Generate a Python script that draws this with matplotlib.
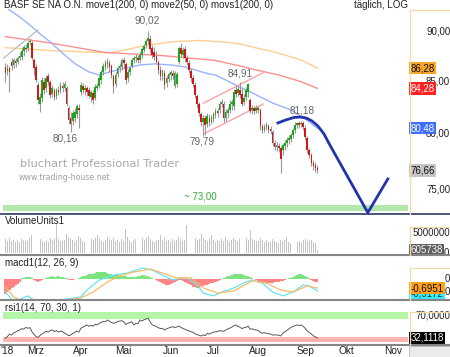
import matplotlib
matplotlib.use("Agg")
import matplotlib.pyplot as plt
import matplotlib.transforms as mtransforms
from matplotlib.lines import Line2D
from matplotlib.patches import Rectangle
import numpy as np
import pandas as pd

plt.rcParams['font.family'] = ['Liberation Sans', 'DejaVu Sans']

# ---- data ----
start_date = '2018-02-08'
axis_end_date = '2018-11-13'

opens = [
    86.35, 85.95, 86.25, 86.85, 86.55, 86.95, 86.85, 87.25, 87.45, 87.96,
    88.36, 88.36, 88.97, 88.87, 87.05, 86.35, 84.58, 82.76, 83.33, 84.87,
    84.29, 85.46, 84.87, 83.72, 84.10, 83.52, 84.10, 84.10, 84.48, 84.29,
    84.29, 82.38, 81.44, 81.16, 81.44, 81.81, 82.38, 83.91, 84.48, 84.10,
    84.29, 84.10, 83.43, 83.81, 83.33, 84.29, 84.48, 85.07, 85.85, 86.35,
    86.65, 86.75, 86.45, 85.46, 84.68, 85.66, 86.25, 86.35, 87.05, 86.65,
    85.27, 85.85, 86.45, 87.05, 87.25, 87.35, 87.05, 87.65, 88.16, 88.66,
    89.07, 89.28, 88.36, 87.86, 87.55, 86.85, 86.05, 85.46, 85.76, 84.78,
    85.17, 85.56, 85.76, 84.48, 84.68, 86.85, 88.36, 87.65, 88.26, 87.35,
    86.75, 85.95, 85.27, 84.58, 83.52, 82.76, 81.81, 81.06, 81.44, 80.87,
    81.44, 81.06, 81.34, 81.72, 82.10, 82.19, 82.76, 82.76, 81.44, 81.91,
    82.19, 82.76, 82.57, 84.10, 83.81, 84.10, 83.72, 82.95, 83.43, 83.91,
    83.14, 82.19, 82.38, 82.10, 82.38, 82.19, 80.69, 80.32, 80.60, 80.69,
    80.41, 80.14, 79.13, 78.77, 78.86, 78.68, 78.50, 78.86, 79.13, 79.40,
    79.49, 79.86, 80.32, 80.78, 80.97, 80.87, 80.97, 80.50, 79.58, 78.50,
    78.05, 77.34, 77.16, 76.90]
highs = [
    86.75, 86.65, 86.45, 87.25, 87.25, 87.35, 87.55, 87.86, 88.36, 88.66,
    88.77, 89.07, 89.38, 89.07, 87.25, 86.65, 84.87, 83.81, 85.36, 85.27,
    85.56, 85.76, 85.07, 84.58, 84.29, 84.29, 84.48, 84.87, 84.87, 84.97,
    84.48, 82.57, 82.00, 82.19, 82.38, 82.76, 82.76, 84.87, 84.78, 84.58,
    84.48, 84.39, 84.10, 84.10, 84.68, 84.78, 85.56, 86.05, 86.75, 87.05,
    87.25, 87.05, 86.65, 85.66, 85.85, 86.45, 86.75, 87.25, 87.45, 86.85,
    86.15, 86.45, 87.35, 87.55, 87.75, 87.65, 87.86, 88.46, 88.77, 89.28,
    90.02, 89.69, 88.66, 88.46, 88.06, 87.05, 86.45, 86.15, 86.05, 85.56,
    85.85, 86.05, 86.05, 85.95, 85.85, 88.56, 88.87, 88.46, 88.56, 87.65,
    87.05, 86.25, 85.56, 84.87, 83.72, 82.95, 82.00, 81.72, 81.72, 81.91,
    81.81, 81.72, 82.00, 82.38, 82.38, 83.04, 83.24, 83.04, 82.28, 82.47,
    83.14, 83.24, 84.20, 84.48, 84.48, 84.91, 84.29, 83.72, 84.39, 84.78,
    83.33, 82.66, 82.57, 82.66, 82.57, 82.38, 80.87, 80.87, 81.06, 80.87,
    80.69, 80.32, 79.40, 79.22, 79.13, 78.86, 79.13, 79.40, 79.68, 79.86,
    80.05, 80.50, 81.06, 81.10, 81.18, 81.16, 81.16, 80.78, 79.77, 78.68,
    78.23, 77.60, 77.42, 77.16]
lows = [
    84.87, 85.56, 83.91, 86.05, 86.25, 86.35, 86.65, 87.05, 87.05, 87.55,
    87.86, 88.06, 88.66, 87.05, 85.56, 84.87, 82.76, 82.00, 82.95, 83.72,
    83.91, 84.58, 83.33, 83.43, 83.14, 83.24, 83.62, 83.81, 83.91, 84.00,
    82.57, 80.87, 80.16, 80.78, 81.06, 81.44, 80.50, 83.62, 83.81, 83.62,
    83.52, 83.33, 82.95, 82.76, 83.14, 84.10, 84.29, 84.68, 85.56, 86.05,
    86.25, 85.85, 85.27, 83.81, 84.39, 85.36, 85.85, 86.05, 86.25, 84.68,
    84.87, 85.56, 86.25, 86.75, 86.85, 86.75, 86.75, 87.35, 87.86, 88.36,
    88.77, 87.86, 87.35, 87.05, 86.65, 85.66, 85.07, 85.07, 84.20, 84.39,
    84.87, 85.07, 85.17, 84.29, 84.39, 86.65, 87.45, 87.25, 86.85, 86.55,
    85.76, 84.87, 84.39, 83.33, 82.38, 81.63, 80.69, 79.79, 79.90, 80.60,
    80.69, 80.87, 81.06, 81.44, 81.53, 81.91, 82.47, 81.06, 81.16, 81.44,
    81.91, 82.19, 82.19, 83.43, 83.52, 83.33, 82.57, 82.66, 83.14, 83.43,
    81.91, 81.81, 81.81, 81.91, 81.91, 80.32, 80.05, 80.14, 80.32, 80.05,
    79.95, 78.86, 78.50, 78.41, 78.32, 76.46, 78.05, 78.50, 78.77, 79.04,
    79.22, 79.58, 80.05, 80.50, 80.50, 80.60, 80.32, 79.40, 78.23, 77.78,
    77.07, 76.72, 76.54, 76.46]
closes = [
    85.76, 86.25, 85.85, 86.45, 87.05, 86.75, 87.35, 87.55, 88.06, 88.46,
    88.26, 88.87, 89.07, 87.25, 86.25, 85.07, 83.14, 83.43, 85.07, 84.10,
    85.27, 84.87, 83.62, 84.29, 83.43, 84.10, 83.91, 84.58, 84.29, 84.68,
    82.76, 81.25, 80.87, 81.91, 82.00, 82.57, 82.19, 84.58, 84.10, 84.29,
    83.91, 83.52, 83.91, 83.14, 84.39, 84.48, 85.27, 85.85, 86.45, 86.75,
    86.85, 86.35, 85.56, 84.48, 85.56, 86.25, 86.45, 87.05, 86.75, 85.07,
    85.85, 86.25, 87.05, 87.25, 87.45, 87.05, 87.65, 88.26, 88.56, 89.07,
    89.38, 88.26, 87.65, 87.45, 86.85, 86.05, 85.46, 85.95, 84.58, 85.27,
    85.66, 85.85, 85.46, 85.76, 85.66, 88.36, 87.75, 88.16, 87.25, 86.85,
    86.05, 85.27, 84.68, 83.62, 82.76, 81.91, 81.06, 81.44, 80.78, 81.63,
    81.06, 81.44, 81.81, 82.10, 81.91, 82.76, 82.95, 81.44, 82.00, 82.19,
    82.76, 82.95, 83.91, 83.72, 84.20, 83.62, 82.76, 83.33, 84.10, 84.68,
    82.10, 82.38, 82.10, 82.38, 82.19, 80.69, 80.32, 80.60, 80.78, 80.32,
    80.23, 79.13, 78.77, 78.95, 78.68, 77.69, 78.95, 79.13, 79.40, 79.58,
    79.86, 80.32, 80.78, 80.97, 80.78, 80.97, 80.60, 79.68, 78.50, 78.05,
    77.34, 77.07, 76.90, 76.66]

# moving averages, sampled at the day index where they were read
ma1_idx = [0, 22, 51, 61, 68, 82, 95, 107, 115, 123, 132, 145, 153]      # move1(200) orange
ma1_val = [88.35, 88.06, 87.81, 88.22, 88.55, 88.96, 89.09, 88.93, 88.73, 88.32, 87.91, 87.10, 86.28]
ma3_idx = [0, 22, 49, 76, 103, 115, 123, 135, 145, 153]                    # movs1(200) red
ma3_val = [89.48, 88.83, 87.86, 87.56, 87.05, 86.50, 86.10, 85.55, 84.94, 84.28]
ma2_idx = [0, 2, 7, 12, 17, 22, 29, 35, 41, 46, 51, 59, 66, 73, 81, 88, 98, 103, 115, 123, 131, 140, 147, 153]
ma2_val = [92.66, 92.29, 91.54, 90.70, 89.76, 88.93, 87.61, 86.60, 85.90, 85.60, 85.90, 86.30,
           86.60, 86.71, 86.60, 86.40, 85.80, 85.60, 84.42, 83.65, 82.87, 82.21, 81.36, 80.48]   # move2(50) blue

# drawn trend lines and projection
gray_line_idx = [-1, 16]
gray_line_val = [87.27, 90.18]
chan_up_idx = [97.0, 126.4]
chan_up_val = [82.85, 85.83]
chan_lo_idx = [97.8, 126.4]
chan_lo_val = [80.02, 82.78]
proj_idx = [133.6, 137.5, 141.5, 144.4, 147.4, 150.3, 153.2, 156.2, 159.1, 177.7, 187.5]
proj_val = [80.98, 81.26, 81.50, 81.54, 81.45, 81.17, 80.70, 79.96, 78.94, 73.00, 75.90]
support_level = 73.00
support_band = (73.15, 73.68)

volume_mio = [
    3.4, 3.0, 3.8, 2.9, 3.3, 2.7, 3.1, 2.8, 3.5, 3.2,
    2.9, 3.3, 3.6, 4.4, 3.7, 3.2, 3.9, 3.4, 3.0, 2.8,
    3.1, 2.7, 3.6, 3.3, 3.5, 7.2, 3.4, 3.0, 2.9, 3.2,
    4.8, 3.9, 3.6, 3.1, 2.8, 3.3, 4.2, 3.8, 3.0, 2.6,
    3.2, 2.9, 3.4, 3.1, 3.7, 4.4, 3.5, 3.0, 2.8, 3.3,
    4.0, 3.4, 3.1, 3.6, 2.9, 3.2, 2.7, 3.4, 3.0, 6.0,
    3.9, 3.3, 2.8, 3.1, 3.5, 2.9, 4.8, 3.6, 3.2, 3.8,
    4.1, 3.4, 3.0, 2.7, 3.3, 3.1, 4.4, 3.2, 3.6, 2.9,
    3.1, 2.8, 3.5, 3.0, 3.3, 3.9, 3.4, 2.9, 3.2, 7.0,
    3.6, 3.1, 3.4, 3.8, 3.2, 3.5, 4.8, 3.7, 3.3, 3.0,
    3.4, 4.4, 3.1, 2.8, 3.2, 2.9, 3.5, 3.0, 3.9, 3.3,
    2.8, 3.1, 3.6, 3.2, 3.0, 3.4, 2.9, 3.2, 3.7, 3.1,
    5.7, 3.5, 3.2, 2.9, 3.0, 3.8, 3.3, 2.7, 3.1, 2.8,
    2.6, 3.4, 3.0, 2.8, 2.5, 3.3, 2.9, 3.1, 3.9, 2.7,
    2.4, 2.8, 3.0, 2.6, 2.9, 2.5, 3.2, 3.5, 2.9, 3.3,
    3.1, 2.7, 2.4, 0.605738]

macd_hist = [
    -1.13, -1.00, -0.87, -0.72, -0.60, -0.46, -0.36, -0.23,
    0.06, 0.10, 0.13, 0.15, 0.12, 0.08,
    -0.08, -0.15, -0.20, -0.16, -0.10, -0.02,
    0.08, 0.14, 0.18, 0.20, 0.19, 0.17, 0.20, 0.18, 0.14, 0.10,
    0.04, -0.05, -0.09, -0.07, -0.03, 0.02,
    0.08, 0.14, 0.20, 0.26, 0.30, 0.35, 0.38, 0.42, 0.46, 0.50, 0.53, 0.54, 0.52, 0.50, 0.47, 0.42, 0.38, 0.34,
    0.30, 0.28, 0.25, 0.26, 0.24, 0.20, 0.17, 0.15, 0.14, 0.15,
    0.18, 0.22, 0.26, 0.28, 0.27, 0.24, 0.20, 0.14, 0.08, 0.03,
    -0.04, -0.12, -0.20, -0.30, -0.38, -0.45, -0.46, -0.40, -0.32, -0.24, -0.18, -0.10, -0.08, -0.12,
    -0.20, -0.30, -0.40, -0.50,
    -0.58, -0.64, -0.67, -0.66, -0.62, -0.56, -0.50, -0.45, -0.40, -0.34, -0.28, -0.20, -0.14, -0.08, -0.02,
    0.06, 0.13, 0.20, 0.26, 0.32, 0.36, 0.40, 0.41, 0.40, 0.37, 0.32, 0.26, 0.20, 0.12, 0.05,
    -0.02,
    -0.08, -0.14, -0.20, -0.24, -0.28, -0.30, -0.31, -0.30, -0.28, -0.26, -0.24, -0.20, -0.16, -0.12, -0.07, -0.02,
    0.04, 0.10, 0.17, 0.24, 0.30, 0.35, 0.36, 0.33, 0.26, 0.16, 0.06,
    -0.06, -0.14, -0.20, -0.23]
macd_idx = [0, 4, 11, 13, 22, 30, 37, 40, 46, 53, 60, 67, 72, 79, 82, 86, 89, 94, 97, 102,
            105, 112, 118, 121, 126, 131, 136, 141, 146, 149, 153]
macd_val = [-1.0, -1.75, -1.3, -1.55, -1.75, -1.55, -1.38, -0.85, -0.08, 0.3, 0.46, 0.85, 0.69,
            0.15, -0.08, 0.08, 0.08, -0.46, -1.08, -1.3, -1.08, -0.69, -0.23, -0.08, -0.31, -1.0,
            -1.3, -1.0, -0.46, -0.54, -0.92]
signal_idx = [0, 4, 7, 22, 37, 43, 50, 56, 63, 71, 77, 84, 91, 97, 104, 112, 121, 128, 135, 141, 148, 153]
signal_val = [-0.62, -1.38, -1.6, -1.8, -1.46, -1.0, -0.23, 0.23, 0.54, 0.77, 0.46, 0.08, 0.08,
              -0.69, -1.08, -0.92, -0.15, -0.31, -0.85, -1.0, -0.54, -0.6951]

rsi = [
    31.6, 34.5, 38.9, 37.0, 40.5, 42.0, 44.2, 45.6, 47.8, 46.9,
    50.0, 48.5, 49.6, 42.8, 38.5, 34.3, 33.2, 36.4, 39.0, 41.0,
    43.5, 42.1, 44.8, 45.6, 43.0, 44.6, 41.9, 43.7, 42.8, 40.2,
    38.5, 36.0, 37.2, 39.8, 41.5, 43.9, 42.0, 48.4, 50.6, 52.1,
    54.0, 51.8, 53.5, 52.0, 55.2, 54.0, 56.8, 58.5, 60.1, 59.3,
    62.4, 60.5, 58.3, 56.8, 58.0, 59.9, 60.5, 61.2, 59.6, 54.8,
    56.9, 58.1, 59.5, 54.0, 57.3, 56.0, 62.4, 60.8, 63.0, 64.1,
    65.2, 59.0, 54.0, 53.1, 51.2, 49.5, 47.9, 48.4, 45.3, 47.6,
    49.0, 50.1, 51.2, 49.8, 50.5, 52.3, 50.0, 48.4, 46.9, 45.2,
    44.0, 42.8, 41.5, 39.0, 37.8, 36.6, 35.5, 37.3, 36.1, 40.0,
    38.6, 40.4, 41.9, 42.5, 42.8, 44.6, 44.0, 43.2, 45.6, 47.2,
    48.9, 50.3, 52.8, 54.0, 51.9, 50.2, 47.9, 49.5, 50.0, 52.2,
    46.8, 47.5, 46.2, 45.6, 44.9, 41.2, 40.3, 41.1, 40.0, 39.2,
    38.9, 37.0, 37.5, 37.2, 36.8, 35.5, 40.1, 42.6, 45.0, 47.3,
    50.0, 51.5, 52.9, 54.1, 53.2, 54.0, 51.8, 48.4, 44.0, 41.3,
    38.9, 35.7, 34.0, 32.1118]
rsi_upper, rsi_lower = 70, 30

month_names = ['Mrz', 'Apr', 'Mai', 'Jun', 'Jul', 'Aug', 'Sep', 'Okt', 'Nov']
price_ticks = [75, 80, 85, 90]

# ---- layout ----
W, H = 450, 357
fig = plt.figure(figsize=(W / 100, H / 100), dpi=100)
fig.patch.set_facecolor('white')

o = np.array(opens); hi = np.array(highs); lo = np.array(lows); c = np.array(closes)
x = np.arange(len(c))
axis_days = pd.bdate_range(start_date, axis_end_date)


def panel(top, bottom):
    a = fig.add_axes([3 / W, 1 - bottom / H, 405 / W, (bottom - top) / H])
    a.set_xlim(-1.18, 197.4)
    for s in a.spines.values():
        s.set_visible(False)
    a.set_facecolor('none')
    a.set_xticks([])
    a.set_yticks([])
    return a


def rtext(a, yval, s, px, fc=None, color='#222222', z=5, dy=0):
    tr = mtransforms.blended_transform_factory(a.transAxes, a.transData)
    bb = None if fc is None else dict(boxstyle='square,pad=0.12', fc=fc, ec='none')
    a.annotate(s, xy=((px - 3) / 405, yval), xycoords=tr, xytext=(0, dy), textcoords='offset points',
               va='center', ha='left', fontsize=7, color=color, bbox=bb, zorder=z,
               annotation_clip=False)


ax = panel(9, 213.5)
ax.set_yscale('log')
ax.set_ylim(72.93, 92.39)
ax.set_yticks([]); ax.set_yticks([], minor=True)

# support zone
ax.axhspan(*support_band, xmin=0, xmax=1, color='#b5e6ad', lw=0, zorder=1)
ax.annotate('~ 73,00', xy=(95.4, support_level), xytext=(0, 11.3), textcoords='offset points',
            ha='center', va='center', fontsize=7, color='#2faa2f')

# moving averages
ax.plot(ma1_idx, ma1_val, color='#ffcf8f', lw=1.0, zorder=2)
ax.plot(ma3_idx, ma3_val, color='#ff8f8f', lw=1.0, zorder=2)
ax.plot(ma2_idx, ma2_val, color='#98b4ff', lw=1.0, zorder=2)
ax.plot(gray_line_idx, gray_line_val, color='#b4b4b4', lw=0.8, zorder=2)
ax.plot(chan_up_idx, chan_up_val, color='#ff9a9a', lw=0.9, zorder=2)
ax.plot(chan_lo_idx, chan_lo_val, color='#ff9a9a', lw=0.9, zorder=2)

# candles
up = c >= o
body_col = np.where(up, '#18a818', '#d01818')
ax.vlines(x, lo, hi, color='#9a9a9a', lw=0.8, zorder=3)
ax.bar(x, np.maximum(np.abs(c - o), 0.03), bottom=np.minimum(o, c), width=0.8,
       color=body_col, lw=0, zorder=4)

# projection
ax.plot(proj_idx, proj_val, color='#2233b0', lw=2, zorder=6, solid_joinstyle='miter')

# extreme labels
lab = dict(textcoords='offset points', ha='center', va='center', fontsize=7.2, color='#666666')
i_max = int(np.argmax(hi))
ax.annotate('90,02', xy=(i_max, hi[i_max]), xytext=(-0.7, 7.9), **lab)
ax.annotate('84,91', xy=(115, hi[115]), xytext=(0, 5.8), **lab)
ax.annotate('81,18', xy=(144, hi[144]), xytext=(2, 7.2), **lab)
ax.annotate('80,16', xy=(32, lo[32]), xytext=(-3.6, -4.5), **lab)
ax.annotate('79,79', xy=(97, lo[97]), xytext=(-1, -4), **lab)

# watermark
fig.text(20 / W, 1 - 164 / H, 'bluchart Professional Trader', fontsize=8.2, color='#a9a9a9',
         family='DejaVu Sans', va='center', ha='left')
fig.text(19 / W, 1 - 177.5 / H, 'www.trading-house.net', fontsize=5.7, color='#a0a0a0',
         family='DejaVu Sans', va='center', ha='left')

# right scale
for p in price_ticks:
    rtext(ax, p, f'{p},00', 426, z=3)
rtext(ax, ma1_val[-1], '86,28', 410.5, fc='#f7a429', color='#111111')
rtext(ax, ma3_val[-1], '84,28', 410.5, fc='#ff2020', color='white')
rtext(ax, ma2_val[-1], '80,48', 410.5, fc='#3d6cff', color='white')
rtext(ax, c[-1], '76,66', 410.5, fc='#c6c6c6', color='#111111')

# ---- volume ----
axv = panel(215, 254)
axv.set_ylim(-0.38, 9.6)
axv.bar(x, volume_mio, width=0.45, color='#c4c4c4', lw=0)
rtext(axv, 5.0, '5000000', 413)
rtext(axv, volume_mio[-1], '605738', 410.5, fc='#5e5e5e', color='white')
rtext(axv, 0, '0', 444)

# ---- macd ----
axm = panel(256, 299)
axm.set_ylim(-1.54, 1.77)
hist = np.array(macd_hist)
axm.bar(x, hist, width=1.02, color=np.where(hist >= 0, '#7fe37f', '#ff8383'), lw=0)
axm.plot(macd_idx, macd_val, color='#5fe6f5', lw=0.9)
axm.plot(signal_idx, signal_val, color='#ffb862', lw=0.9)
rtext(axm, 0, '0', 445)
rtext(axm, -1.0, '0', 445)
rtext(axm, macd_val[-1], '-0,9172', 410.5, fc='#30f0ff', color='#333333', dy=-2)
rtext(axm, signal_val[-1], '-0,6951', 410.5, fc='#ff9f1a', color='#111111', z=6)

# ---- rsi ----
axr = panel(301, 344)
axr.set_ylim(22.0, 94.4)
axr.axhspan(rsi_upper - 5.8, rsi_upper + 5.2, color='#b5f5a8', lw=0)
axr.axhspan(rsi_lower - 5.4, rsi_lower + 4.6, color='#ffb3b3', lw=0)
axr.plot(x, rsi, color='#5a5a5a', lw=0.7)
rtext(axr, rsi_upper, '70,0000', 415)
rtext(axr, rsi[-1], '32,1118', 410.5, fc='black', color='white')

# month axis
tick_idx, tick_lab = [], []
for m, name in zip(range(3, 12), month_names):
    pos = np.where(axis_days.month == m)[0]
    tick_idx.append(pos[0]); tick_lab.append(name)
axr.set_xticks(tick_idx, tick_lab)
axr.tick_params(axis='x', length=0, pad=1.2, labelsize=7.3, labelcolor='#222222')
fig.text(0.5 / W, 1 - 350.5 / H, "'18", fontsize=7.3, color='#222222', va='center', ha='left')

# ---- frame lines and captions ----
def hline(py, x0, x1, color, lw):
    fig.add_artist(Line2D([x0 / W, x1 / W], [1 - py / H] * 2, color=color, lw=lw))


def vline(px, y0, y1, color, lw):
    fig.add_artist(Line2D([px / W] * 2, [1 - y0 / H, 1 - y1 / H], color=color, lw=lw))


hline(214, 0, 450, '#2c3a66', 1.2)
for py in (255, 300, 345):
    hline(py, 0, 450, '#858585', 1.5)
tan = '#f2d9a6'
for top, bot in ((10, 213.5), (227, 254.5), (268, 299.5), (312, 344.5)):
    vline(409.5, top, bot, tan, 0.9)
    hline(top, 409.5, 450, tan, 0.9)
fig.add_artist(Rectangle((409 / W, 0), 41 / W, 11 / H, transform=fig.transFigure,
                         fc='#ebebeb', ec='#b8b8b8', lw=0.6))

fig.text(4 / W, 1 - 5.5 / H, 'BASF SE NA O.N. move1(200, 0) move2(50, 0) movs1(200, 0)',
         fontsize=7, color='#222222', va='center', ha='left')
fig.text(354 / W, 1 - 5.5 / H, 'täglich, LOG', fontsize=7, color='#222222', va='center', ha='left')
fig.text(5 / W, 1 - 221.5 / H, 'VolumeUnits1', fontsize=7, color='#222222', va='center', ha='left')
fig.text(5 / W, 1 - 263 / H, 'macd1(12, 26, 9)', fontsize=7, color='#222222', va='center', ha='left')
fig.text(5 / W, 1 - 308 / H, 'rsi1(14, 70, 30, 1)', fontsize=7, color='#222222', va='center', ha='left')

fig.savefig('out.png', dpi=100)
